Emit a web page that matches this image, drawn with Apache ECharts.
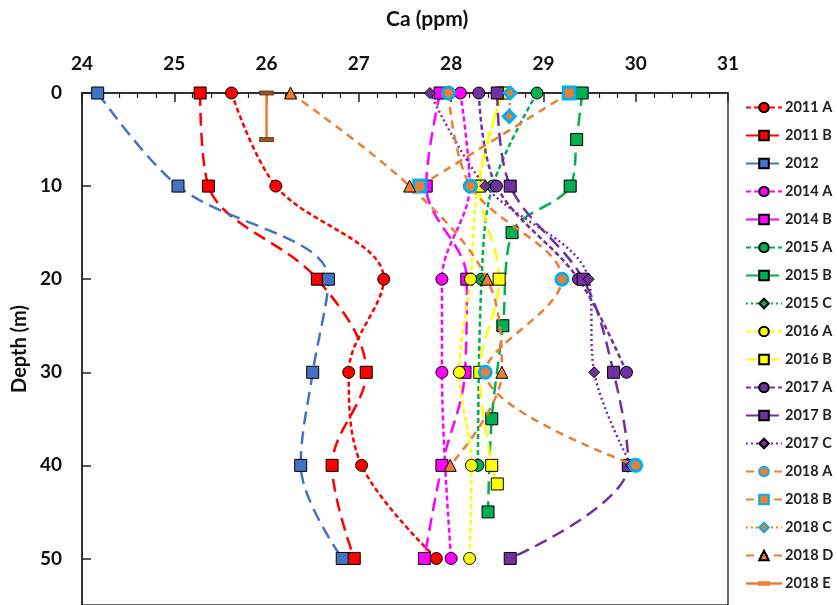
<!DOCTYPE html>
<html><head><meta charset="utf-8">
<script src="https://cdn.jsdelivr.net/npm/echarts@6/dist/echarts.min.js"></script>
<style>html,body{margin:0;padding:0;background:#fff}#c{width:837px;height:605px}</style>
</head><body><div id="c"></div>
<script>
// ---- data ----
const seriesNames = ['2011 A','2011 B','2012','2014 A','2014 B','2015 A','2015 B','2015 C','2016 A','2016 B','2017 A','2017 B','2017 C','2018 A','2018 B','2018 C','2018 D','2018 E'];
const d2011A = [0,10,20,30,40,50];      const ca2011A = [25.62,26.10,27.27,26.89,27.03,27.84];
const d2011B = [0,10,20,30,40,50];      const ca2011B = [25.28,25.37,26.55,27.08,26.71,26.95];
const d2012  = [0,10,20,30,40,50];      const ca2012  = [24.17,25.04,26.67,26.50,26.37,26.82];
const d2014A = [0,10,20,30,50];         const ca2014A = [28.10,28.20,27.90,27.90,28.00];
const d2014B = [0,10,20,30,40,50];      const ca2014B = [27.88,27.73,28.17,28.15,27.90,27.71];
const d2015A = [0,10,20,40];            const ca2015A = [28.93,28.45,28.33,28.29];
const d2015B = [0,5,10,15,25,35,45];    const ca2015B = [29.42,29.36,29.29,28.66,28.56,28.44,28.40];
const d2015C = [20];                    const ca2015C = [28.36];
const d2016A = [0,10,20,30,40,50];      const ca2016A = [28.55,28.29,28.21,28.09,28.22,28.20];
const d2016B = [0,10,20,30,40,42];      const ca2016B = [28.56,28.31,28.52,28.31,28.44,28.50];
const d2017A = [0,10,20,30];            const ca2017A = [28.30,28.49,29.38,29.90];
const d2017B = [0,10,20,30,40,50];      const ca2017B = [28.50,28.64,29.43,29.76,29.92,28.64];
const d2017C = [0,10,20,30,40];         const ca2017C = [27.77,28.37,29.49,29.55,29.95];
const d2018A = [0,10,20,30,40];         const ca2018A = [27.97,28.21,29.20,28.37,30.00];
const d2018B = [0,10];                  const ca2018B = [29.28,27.66];
const d2018C = [0,2.5];                 const ca2018C = [28.64,28.63];
const d2018D = [0,10,20,30,40];         const ca2018D = [26.26,27.55,28.39,28.55,27.99];
const d2018E = [0,5];                   const ca2018E = [26.0,26.0];
const xTickLabels = ['24','25','26','27','28','29','30','31'];
const depthTickLabels = ['0','10','20','30','40','50'];

const allDepths = [d2011A,d2011B,d2012,d2014A,d2014B,d2015A,d2015B,d2015C,d2016A,d2016B,d2017A,d2017B,d2017C,d2018A,d2018B,d2018C,d2018D,d2018E];
const allCa = [ca2011A,ca2011B,ca2012,ca2014A,ca2014B,ca2015A,ca2015B,ca2015C,ca2016A,ca2016B,ca2017A,ca2017B,ca2017C,ca2018A,ca2018B,ca2018C,ca2018D,ca2018E];

// ---- styles ----
const RED='#FF0000', BLUE='#4472C4', MAG='#FF00FF', GRN='#00B050', YEL='#FFFF00', PUR='#7030A0', ORA='#ED7D31', CYA='#00B0F0';
const SHORT=[5,3], LONG=[13,7], DASH=[8,6], DOT=[2,3];
const BAR = 'path://M0,0 L14,0 L14,4 L0,4 Z';
const styles = [
  {c:RED, dash:SHORT, sym:'circle', fill:RED, bc:'#000', bw:1, size:12},
  {c:RED, dash:LONG, sym:'rect', fill:RED, bc:'#000', bw:1, size:12},
  {c:BLUE, dash:LONG, sym:'rect', fill:BLUE, bc:'#000', bw:1, size:12},
  {c:MAG, dash:SHORT, sym:'circle', fill:MAG, bc:'#000', bw:1, size:12},
  {c:MAG, dash:LONG, sym:'rect', fill:MAG, bc:'#000', bw:1, size:12},
  {c:GRN, dash:SHORT, sym:'circle', fill:GRN, bc:'#000', bw:1, size:12},
  {c:GRN, dash:LONG, sym:'rect', fill:GRN, bc:'#000', bw:1, size:12},
  {c:GRN, dash:DOT, sym:'diamond', fill:GRN, bc:'#000', bw:1, size:11},
  {c:YEL, dash:SHORT, sym:'circle', fill:YEL, bc:'#000', bw:1, size:12},
  {c:YEL, dash:LONG, sym:'rect', fill:YEL, bc:'#000', bw:1, size:12},
  {c:PUR, dash:SHORT, sym:'circle', fill:PUR, bc:'#000', bw:1, size:12},
  {c:PUR, dash:LONG, sym:'rect', fill:PUR, bc:'#000', bw:1, size:12},
  {c:PUR, dash:DOT, sym:'diamond', fill:PUR, bc:'#000', bw:1, size:11},
  {c:ORA, dash:DASH, sym:'circle', fill:ORA, bc:CYA, bw:3, size:12},
  {c:ORA, dash:DASH, sym:'rect', fill:ORA, bc:CYA, bw:3, size:12},
  {c:ORA, dash:DOT, sym:'diamond', fill:ORA, bc:CYA, bw:3, size:12},
  {c:ORA, dash:DASH, sym:'triangle', fill:ORA, bc:'#000', bw:1, size:12},
  {c:ORA, dash:'solid', sym:BAR, fill:'#9C5424', bc:'#4a2a10', bw:0.8, size:14}
];

const series = seriesNames.map((name,i)=>{
  const s = styles[i];
  return {
    name, type:'line', smooth:0.35,
    data: allDepths[i].map((d,k)=>[allCa[i][k], d]),
    symbol: s.sym, symbolSize: s.size, symbolKeepAspect:true, showSymbol:true,
    lineStyle:{color:s.c, width:2.5, type:s.dash},
    itemStyle:{color:s.fill, borderColor:s.bc, borderWidth:s.bw},
    z: 2+i*0.01
  };
});

const legendData = seriesNames.map(n => n === '2018 E'
  ? {name:n, icon:'path://M0,5 L36,5 L36,7.5 L0,7.5 Z M12,4 L24,4 L24,8.5 L12,8.5 Z',
     itemStyle:{color:ORA, borderWidth:0}}
  : n);

const FONT = 'Lato';
const chart = echarts.init(document.getElementById('c'), null, {renderer:'canvas'});
chart.setOption({
  animation:false,
  backgroundColor:'#fff',
  textStyle:{fontFamily:FONT},
  grid:{left:82, right:109, top:93, height:512, show:true, borderColor:'#333', borderWidth:1.5},
  graphic:[{type:'text', left:386, top:9, style:{text:'Ca (ppm)', font:'bold 21px Lato', fill:'#111'}}],
  xAxis:{
    type:'value', position:'top', min:24, max:31, interval:1,
    axisLine:{show:true, lineStyle:{color:'#222', width:1.5}},
    axisTick:{show:true, inside:true, length:9, lineStyle:{color:'#222', width:1.5}},
    minorTick:{show:true, splitNumber:5, length:5, lineStyle:{color:'#222', width:1.2}},
    splitLine:{show:false},
    axisLabel:{margin:20, fontSize:19, fontWeight:'bold', color:'#111', fontFamily:FONT,
      formatter:(v)=>{const i=Math.round(v-24); return xTickLabels[i]!==undefined && Math.abs(v-24-i)<1e-6 ? xTickLabels[i] : '';}}
  },
  yAxis:{
    type:'value', inverse:true, min:0, max:55, interval:10,
    name:'Depth (m)', nameLocation:'middle', nameGap:48,
    nameTextStyle:{fontSize:20, fontWeight:'bold', color:'#111', fontFamily:FONT},
    axisLine:{show:true, lineStyle:{color:'#222', width:1.5}},
    axisTick:{show:true, inside:true, length:9, lineStyle:{color:'#222', width:1.5}},
    splitLine:{show:false},
    axisLabel:{margin:20, fontSize:19, fontWeight:'bold', color:'#111', fontFamily:FONT, showMaxLabel:false,
      formatter:(v)=>{const i=Math.round(v/10); return (Math.abs(v-i*10)<1e-6 && depthTickLabels[i]!==undefined) ? depthTickLabels[i] : '';}}
  },
  legend:{
    orient:'vertical', left:745, top:100, height:520, padding:0,
    itemWidth:36, itemHeight:12, itemGap:13,
    textStyle:{fontSize:14.5, fontWeight:'bold', color:'#222', fontFamily:FONT, padding:[0,0,0,-2]},
    data: legendData
  },
  series
});
</script></body></html>
